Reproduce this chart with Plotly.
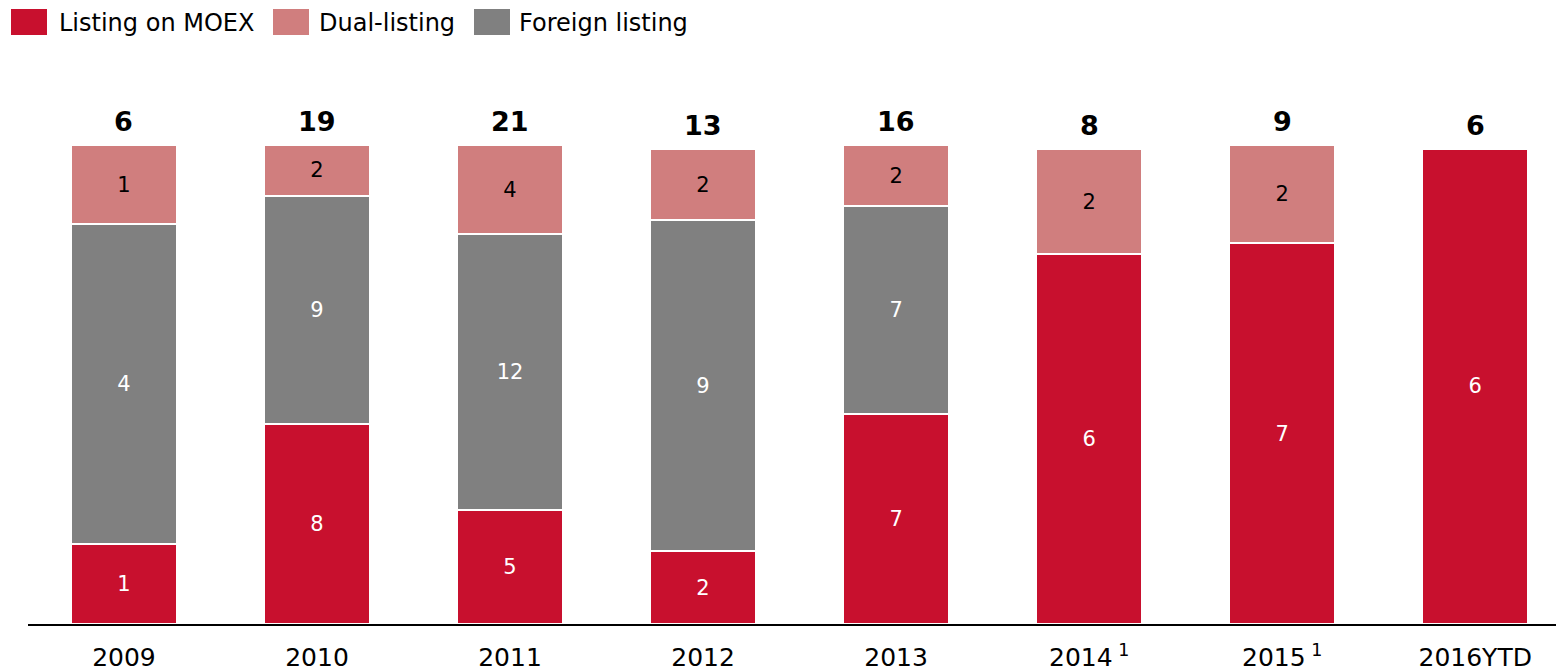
import plotly.graph_objects as go

# page body has an 8px margin, so the figure is drawn 8px right/down
OFF = 8
W, H = 1564 - OFF, 671 - OFF
L_M, R_M, T_M, B_M = 20, 0, 137, 47

RED = "#c8102e"
PINK = "#d07e7e"
GREY = "#808080"
FONT = "DejaVu Sans"

years = ["2009", "2010", "2011", "2012", "2013", "2014", "2015", "2016YTD"]
tick_labels = ["2009", "2010", "2011", "2012", "2013",
               "2014<sup> 1</sup>", "2015<sup> 1</sup>", "2016YTD"]

# number of IPOs per type (segment labels)
moex_n = [1, 8, 5, 2, 7, 6, 7, 6]
foreign_n = [4, 9, 12, 9, 7, None, None, None]
dual_n = [1, 2, 4, 2, 2, 2, 2, None]
totals = [6, 19, 21, 13, 16, 8, 9, 6]

# bar heights (share of full bar, %)
moex_share = [16.7, 41.8, 23.8, 15.2, 43.8, 77.2, 79.5, 99.2]
foreign_share = [66.8, 47.6, 57.6, 69.1, 43.4, None, None, None]
dual_share = [16.5, 10.6, 18.6, 14.8, 12.8, 21.9, 20.5, None]

x = list(range(len(years)))
plot_w = W - L_M - R_M
plot_h = H - T_M - B_M


def px_x(p):
    # screenshot pixel -> paper coordinate
    return (p - OFF - L_M) / plot_w


def px_y(p):
    return (H - B_M - (p - OFF)) / plot_h


def _bar(vals, counts, color, text_color):
    return go.Bar(
        x=x,
        y=vals,
        text=[("" if c is None else str(c)) for c in counts],
        texttemplate="%{text}",
        textposition="inside",
        insidetextanchor="middle",
        textangle=0,
        constraintext="none",
        textfont={"family": FONT, "size": 21, "color": text_color},
        marker={"color": color, "line": {"color": "white", "width": 2}},
        hoverinfo="skip",
        showlegend=False,
    )


fig = go.Figure()
fig.add_trace(_bar(moex_share, moex_n, RED, "white"))
fig.add_trace(_bar(foreign_share, foreign_n, GREY, "white"))
fig.add_trace(_bar(dual_share, dual_n, PINK, "black"))

# totals above bars
for i, t in enumerate(totals):
    top = sum(v for v in (moex_share[i], foreign_share[i], dual_share[i]) if v)
    fig.add_annotation(
        x=i, y=top, text=f"<b>{t}</b>", showarrow=False,
        yanchor="bottom", yshift=6,
        font={"family": FONT, "size": 27, "color": "black"},
    )

# legend drawn by hand (bigger swatches than plotly's own)
legend_items = [("Listing on MOEX", RED, 11, 59),
                ("Dual-listing", PINK, 273, 319),
                ("Foreign listing", GREY, 474, 519)]
for label, color, sx, tx in legend_items:
    fig.add_shape(
        type="rect", xref="paper", yref="paper",
        x0=px_x(sx), x1=px_x(sx + 36), y0=px_y(35), y1=px_y(9),
        fillcolor=color, line={"width": 0},
    )
    fig.add_annotation(
        xref="paper", yref="paper", x=px_x(tx), y=px_y(23),
        text=label, showarrow=False, xanchor="left", yanchor="middle",
        xshift=-2,
        font={"family": FONT, "size": 24, "color": "black"},
    )

fig.update_layout(
    width=W,
    height=H,
    barmode="stack",
    bargap=0.45,
    margin={"l": L_M, "r": R_M, "t": T_M, "b": B_M},
    paper_bgcolor="white",
    plot_bgcolor="white",
    font={"family": FONT, "color": "black"},
)
fig.update_xaxes(
    range=[-0.497, 7.46],
    tickvals=x,
    ticktext=tick_labels,
    tickfont={"family": FONT, "size": 25, "color": "black"},
    showline=True,
    linecolor="black",
    linewidth=2,
    showgrid=False,
    zeroline=False,
    ticks="",
    ticklabelstandoff=10,
)
fig.update_yaxes(range=[0, 100], visible=False, showgrid=False)

fig.write_html("out.html")
